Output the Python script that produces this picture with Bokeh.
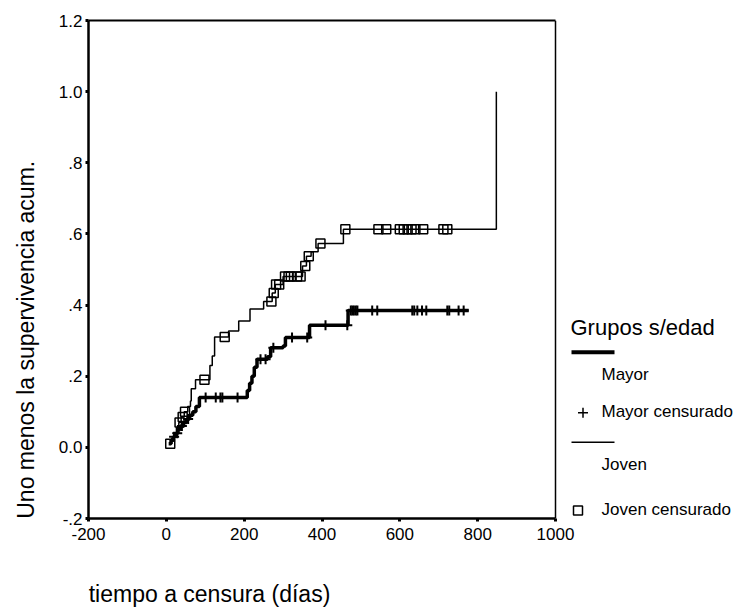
import numpy as np
from bokeh.plotting import figure
from bokeh.models import Range1d, FixedTicker, LinearAxis, Span
from bokeh.core.properties import value
from bokeh.embed import file_html
from bokeh.resources import INLINE

# ---------------- data ----------------
# Kaplan-Meier "1 - survival" step curves (time in days, value after step)
joven_t = [8, 14, 20, 26, 32, 38, 46, 55, 62, 64, 75, 112, 118, 124, 160, 186, 215, 250, 272, 280,
           300, 350, 360, 372, 390, 455, 848]
joven_v = [0.01, 0.025, 0.04, 0.055, 0.07, 0.085, 0.10, 0.115, 0.13, 0.165, 0.19, 0.23, 0.257, 0.31,
           0.327, 0.355, 0.389, 0.41, 0.434, 0.458, 0.48, 0.51, 0.537, 0.55, 0.573, 0.613, 1.0]

mayor_t = [6, 12, 18, 24, 30, 36, 44, 52, 60, 68, 76, 85, 208, 214, 220, 226, 233, 260, 268, 300,
           306, 368, 467, 777]
mayor_v = [0.01, 0.02, 0.03, 0.04, 0.05, 0.06, 0.07, 0.08, 0.09, 0.10, 0.115, 0.14, 0.16, 0.18,
           0.20, 0.225, 0.248, 0.255, 0.28, 0.285, 0.309, 0.343, 0.385, 0.385]

# censored times
joven_cens = [10, 34, 42, 48, 98, 150, 270, 276, 282, 290, 305, 314, 320, 336, 345, 357, 366, 396,
              460, 545, 565, 600, 610, 620, 630, 640, 660, 712, 722]
mayor_cens = [20, 28, 40, 56, 101, 127, 139, 144, 183, 242, 255, 275, 323, 362, 409, 465, 474, 478,
              482, 487, 491, 529, 542, 632, 637, 645, 657, 668, 722, 727, 751, 764]

x_ticks = [-200, 0, 200, 400, 600, 800, 1000]
x_tick_labels = ["-200", "0", "200", "400", "600", "800", "1000"]
y_ticks = [-0.2, 0.0, 0.2, 0.4, 0.6, 0.8, 1.0, 1.2]
y_tick_labels = ["-.2", "0.0", ".2", ".4", ".6", ".8", "1.0", "1.2"]

x_title = "tiempo a censura (días)"
y_title = "Uno menos la supervivencia acum."
legend_title = "Grupos s/edad"
legend_labels = ["Mayor", "Mayor censurado", "Joven", "Joven censurado"]


def step_value(ts, vs, t):
    i = np.searchsorted(np.array(ts), t, side="right") - 1
    return vs[max(i, 0)]


FONT = "Liberation Sans"
NBSP = "\u00a0"

# ---------------- geometry ----------------
W, H = 739, 609
FL, FT, FR, FB = 88, 20, 739, 519          # plot frame in canvas pixels
XMIN, XMAX, YMIN, YMAX = -200, 1000, -0.2, 1.2
AXIS_RIGHT_PX = 555                        # where x = 1000 sits
x_per_px = (XMAX - XMIN) / (AXIS_RIGHT_PX - FL)
x_end = XMAX + (FR - AXIS_RIGHT_PX) * x_per_px
y_per_px = (YMAX - YMIN) / (FB - FT)


def px2x(px):
    return XMIN + (px - FL) * x_per_px


def py2y(py):
    return YMAX - (py - FT) * y_per_px


p = figure(width=W, height=H, x_range=Range1d(XMIN, x_end), y_range=Range1d(YMIN, YMAX),
           output_backend="svg", toolbar_location=None,
           min_border_left=FL, min_border_right=W - FR, min_border_top=FT, min_border_bottom=H - FB)
p.xgrid.visible = False
p.ygrid.visible = False
p.background_fill_color = "white"
p.border_fill_color = "white"
p.outline_line_color = None

for ax in (p.xaxis[0], p.yaxis[0]):
    ax.axis_line_width = 2.5
    ax.axis_line_color = "black"
    ax.major_tick_in = 0
    ax.major_tick_out = 3
    ax.major_tick_line_width = 3
    ax.major_tick_line_color = "black"
    ax.minor_tick_line_color = None
    ax.major_label_text_font = FONT
    ax.major_label_text_font_size = "17px"
    ax.major_label_text_color = "black"
    ax.axis_label_text_font = FONT
    ax.axis_label_text_font_size = "23px"
    ax.axis_label_text_font_style = "normal"
    ax.axis_label_text_color = "black"

p.xaxis[0].bounds = (XMIN, XMAX)
p.xaxis[0].ticker = FixedTicker(ticks=x_ticks)
p.xaxis[0].major_label_overrides = {t: l for t, l in zip(x_ticks, x_tick_labels)}
p.xaxis[0].major_label_standoff = 6
# centred label, padded on the right so that the visible text starts at the box's left edge
p.xaxis[0].axis_label = x_title + NBSP * 64
p.xaxis[0].axis_label_standoff = 38

p.yaxis[0].ticker = FixedTicker(ticks=y_ticks)
p.yaxis[0].major_label_overrides = {t: l for t, l in zip(y_ticks, y_tick_labels)}
p.yaxis[0].major_label_standoff = 3
p.yaxis[0].axis_label = y_title + NBSP * 22
p.yaxis[0].axis_label_standoff = 17

# top border of the box (axis line only)
top = LinearAxis(bounds=(XMIN, XMAX), ticker=FixedTicker(ticks=[]), axis_line_width=2,
                 axis_line_color="black", major_label_text_font_size="0px",
                 major_tick_line_color=None, minor_tick_line_color=None)
p.add_layout(top, "above")
# right border of the box
p.add_layout(Span(location=XMAX, dimension="height", line_color="black", line_width=1.5))

# curves
p.step(mayor_t, mayor_v, mode="after", line_color="black", line_width=3.5)
p.step(joven_t, joven_v, mode="after", line_color="black", line_width=1.5)

mc_y = [step_value(mayor_t, mayor_v, t) for t in mayor_cens]
jc_y = [step_value(joven_t, joven_v, t) for t in joven_cens]
p.scatter(mayor_cens, mc_y, marker="cross", size=10, line_color="black", line_width=2)
p.scatter(joven_cens, jc_y, marker="square", size=9, line_color="black", line_width=1.5,
          fill_color=None)

# ---------------- legend (drawn to the right of the box) ----------------
p.text(x=[px2x(570)], y=[py2y(328)], text=[legend_title], text_font=value(FONT),
       text_font_size="22px", text_baseline="alphabetic", text_color="black")
p.segment(x0=[px2x(571)], y0=[py2y(352.5)], x1=[px2x(614)], y1=[py2y(352.5)],
          line_color="black", line_width=4)
p.segment(x0=[px2x(571)], y0=[py2y(442.7)], x1=[px2x(614)], y1=[py2y(442.7)],
          line_color="black", line_width=1.5)
p.text(x=[px2x(601)] * 4, y=[py2y(375), py2y(412), py2y(465), py2y(510)], text=legend_labels,
       text_font=value(FONT), text_font_size="17px", text_baseline="alphabetic",
       text_color="black")
p.scatter([px2x(582.5)], [py2y(413)], marker="cross", size=10, line_color="black", line_width=1.5)
p.scatter([px2x(577.5)], [py2y(511)], marker="square", size=9, line_color="black",
          line_width=1.5, fill_color=None)

open("out.html", "w").write(file_html(p, INLINE))
